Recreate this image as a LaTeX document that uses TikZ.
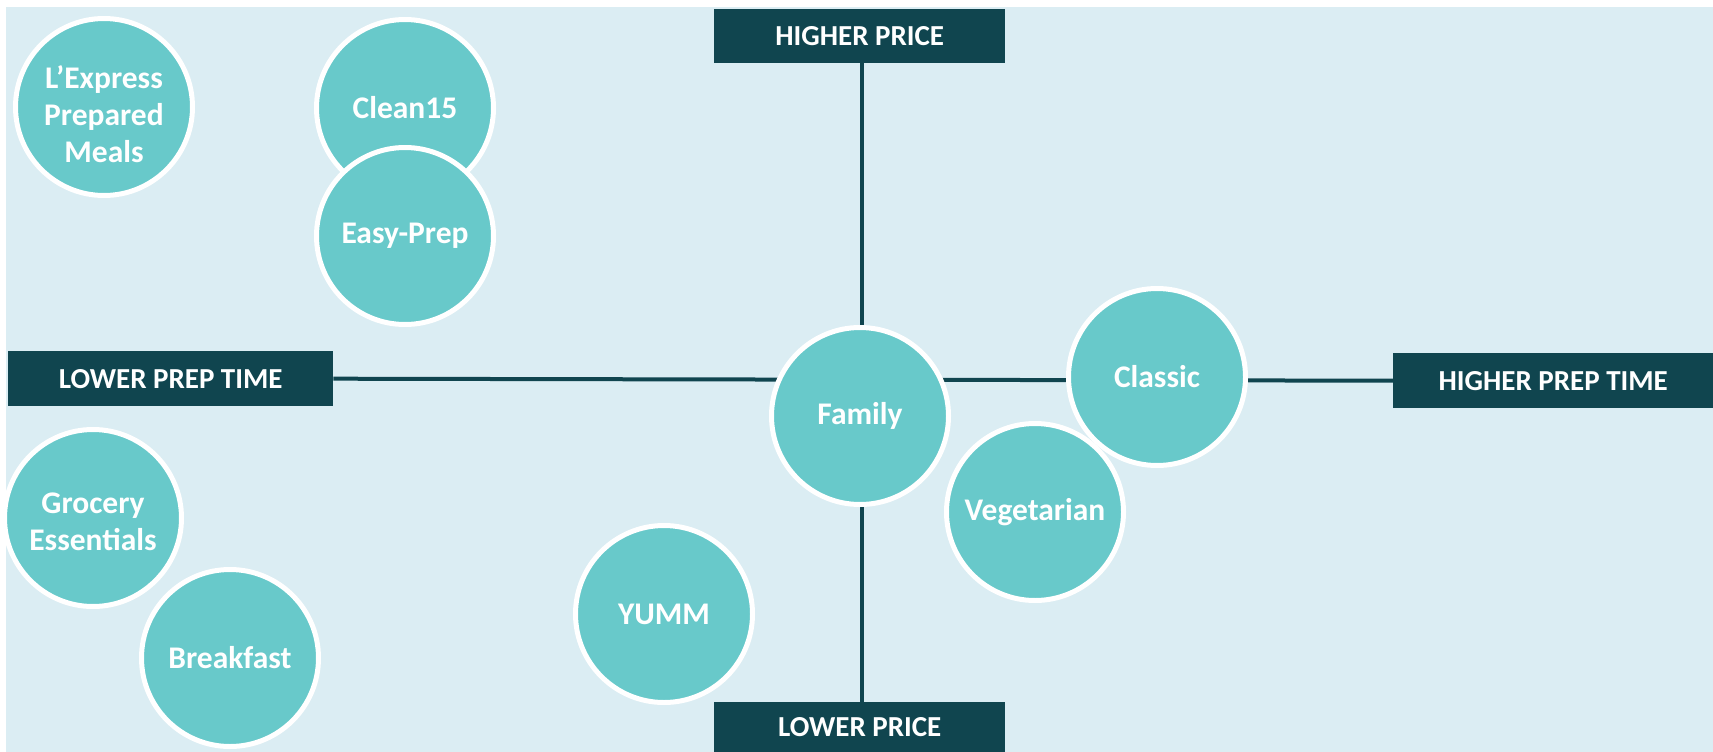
\documentclass[tikz,border=0pt]{standalone}
\usepackage{fontspec}
\setmainfont{Carlito}
\definecolor{paper}{HTML}{DBEDF3}
\definecolor{teal}{HTML}{68C9CA}
\definecolor{deep}{HTML}{10454F}
\tikzset{
  bubble/.style={circle, fill=teal, draw=white, line width=5pt, minimum size=177pt,
    inner sep=0pt, text=white, font=\bfseries\fontsize{31.5}{37}\selectfont, align=center},
  axislabel/.style={fill=deep, text=white, inner sep=0pt, anchor=north west,
    font=\bfseries\fontsize{29}{32}\selectfont},
  axisline/.style={draw=deep, line width=4pt}
}
% lower a stacked label inside its bubble without changing the box size
\newcommand{\stacklower}[2]{\raisebox{-#1}[\height][\depth]{\begin{tabular}{@{}c@{}}#2\end{tabular}}}
\begin{document}
\begin{tikzpicture}[x=1pt, y=-1pt]
  \useasboundingbox (0,0) rectangle (1713,752);
  \fill[paper] (6,7) rectangle (1713,752);

  % axis labels
  \node[axislabel, minimum width=291pt, minimum height=54pt] (hp) at (714,9) {HIGHER PRICE};
  \node[axislabel, minimum width=291pt, minimum height=50pt] (lp) at (714,702) {LOWER PRICE};
  \node[axislabel, minimum width=325pt, minimum height=55pt] (lpt) at (8,351) {LOWER PREP TIME};
  \node[axislabel, minimum width=320pt, minimum height=55pt] (hpt) at (1393,353) {HIGHER PREP TIME};

  % axes
  \draw[axisline] ([xshift=2pt]hp.south) -- ([xshift=2pt]lp.north);
  \draw[axisline] (lpt.east) -- (hpt.west);

  % products
  \node[bubble] (lexpress) at (104,107) {\stacklower{11pt}{L’Express\\Prepared\\Meals}};
  \node[bubble] (clean) at (405,108) {Clean15};
  \node[bubble] (easy) at (405,236) {Easy-Prep};
  \node[bubble] (grocery) at (93,518) {\stacklower{7pt}{Grocery\\Essentials}};
  \node[bubble] (breakfast) at (230,658) {Breakfast};
  \node[bubble] (yumm) at (664,614) {YUMM};
  \node[bubble] (family) at (860,416) {Family};
  \node[bubble] (classic) at (1157,377) {Classic};
  \node[bubble] (veg) at (1035,512) {Vegetarian};
\end{tikzpicture}
\end{document}
